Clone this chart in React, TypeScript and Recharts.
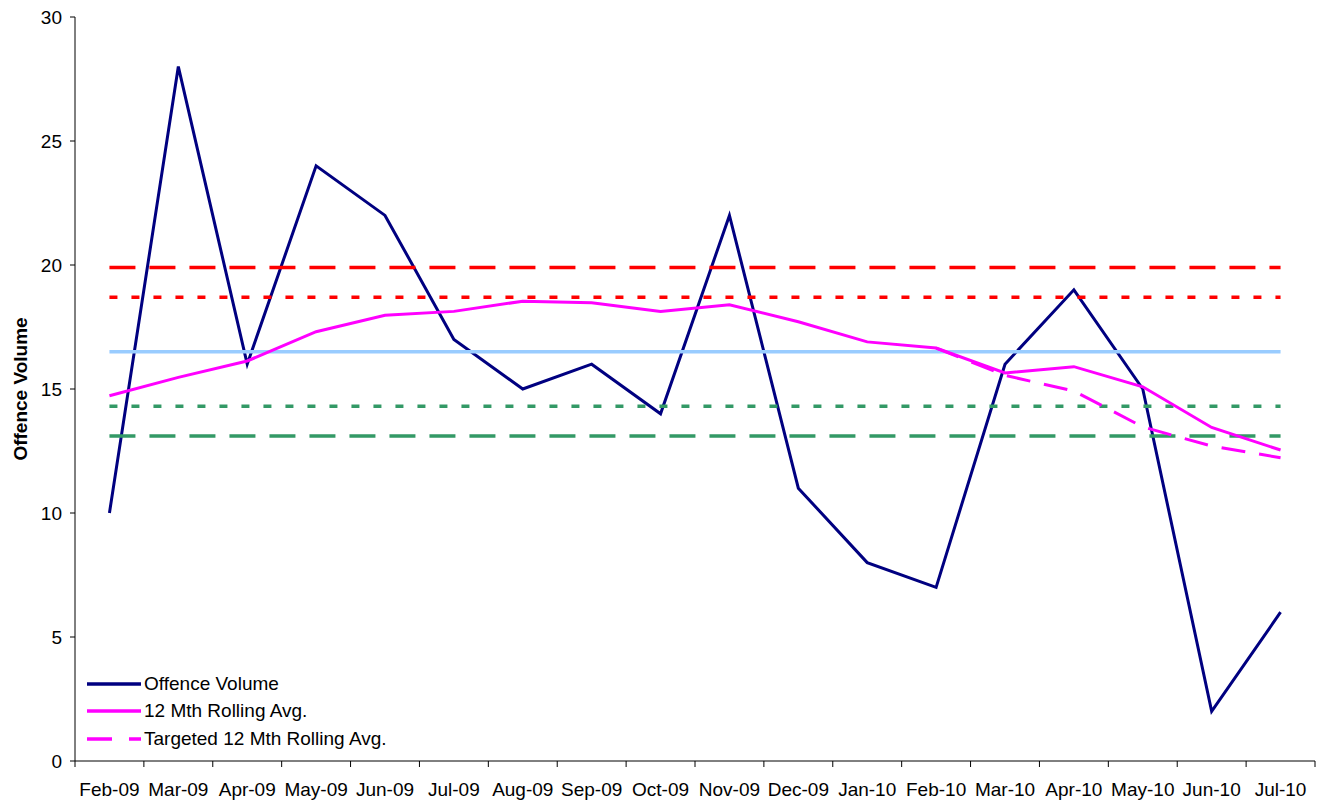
import { LineChart, Line, XAxis, YAxis, ReferenceLine } from "recharts";

const MONTHS = [
  "Feb-09", "Mar-09", "Apr-09", "May-09", "Jun-09", "Jul-09", "Aug-09", "Sep-09", "Oct-09",
  "Nov-09", "Dec-09", "Jan-10", "Feb-10", "Mar-10", "Apr-10", "May-10", "Jun-10", "Jul-10",
];
const OFFENCE_VOLUME = [10, 28, 16, 24, 22, 17, 15, 16, 14, 22, 11, 8, 7, 16, 19, 15, 2, 6];
const ROLLING_AVG = [
  14.73, 15.47, 16.13, 17.31, 17.97, 18.13, 18.54, 18.48, 18.13,
  18.4, 17.71, 16.9, 16.65, 15.65, 15.9, 15.09, 13.45, 12.54,
];
const TARGETED_AVG = [
  null, null, null, null, null, null, null, null, null,
  null, null, null, 16.65, 15.55, 14.92, 13.47, 12.7, 12.23,
];
const Y_TICKS = [0, 5, 10, 15, 20, 25, 30];

// horizontal bands: mean, warning and control limits
const MEAN = 16.5;
const UPPER_WARN = 18.7;
const UPPER_CTRL = 19.9;
const LOWER_WARN = 14.3;
const LOWER_CTRL = 13.1;

const FONT = "'Liberation Sans', Arial, sans-serif";
const FS = 19;
const NAVY = "#000080";
const PINK = "#FF00FF";

const data = MONTHS.map((month, i) => ({
  x: i + 0.5,
  month,
  offence: OFFENCE_VOLUME[i],
  rolling: ROLLING_AVG[i],
  targeted: TARGETED_AVG[i],
}));

// ticks at category boundaries (integers) and labels at category centres (halves)
const X_TICKS: number[] = [];
for (let i = 0; i <= MONTHS.length * 2; i++) X_TICKS.push(i / 2);

function MonthTick(props: any) {
  const { x, y, payload } = props;
  const v = payload.value;
  if (Number.isInteger(v)) {
    return <line x1={x} x2={x} y1={y} y2={y + 6} stroke="#000" strokeWidth={1} />;
  }
  return (
    <text x={x} y={y + 35} textAnchor="middle" fontSize={FS} fill="#000" fontFamily={FONT}>
      {MONTHS[Math.floor(v)]}
    </text>
  );
}

const LEGEND = [
  { name: "Offence Volume", color: NAVY, dash: undefined },
  { name: "12 Mth Rolling Avg.", color: PINK, dash: undefined },
  { name: "Targeted 12 Mth Rolling Avg.", color: PINK, dash: "24 14" },
];

const first = 0.5;
const last = MONTHS.length - 0.5;

const hLines = [
  { y: UPPER_CTRL, color: "#FF0000", dash: "26 14" },
  { y: UPPER_WARN, color: "#FF0000", dash: "8 14" },
  { y: MEAN, color: "#99CCFF", dash: undefined },
  { y: LOWER_WARN, color: "#339966", dash: "8 14" },
  { y: LOWER_CTRL, color: "#339966", dash: "26 14" },
];

export default function App() {
  return (
    <div style={{ position: "fixed", left: 0, top: 0, width: 1319, height: 802, background: "#fff" }}>
      <LineChart width={1319} height={802} data={data} margin={{ top: 17, right: 4, bottom: 0, left: 0 }}>
        <XAxis
          dataKey="x"
          type="number"
          domain={[0, MONTHS.length]}
          ticks={X_TICKS}
          interval={0}
          tick={<MonthTick />}
          tickLine={false}
          tickSize={0}
          tickMargin={0}
          height={41}
          axisLine={{ stroke: "#000" }}
        />
        <YAxis
          domain={[0, 30]}
          ticks={Y_TICKS}
          interval={0}
          width={75}
          tickSize={5}
          tickMargin={8}
          axisLine={{ stroke: "#000" }}
          tickLine={{ stroke: "#000" }}
          tick={{ fontSize: FS, fill: "#000", fontFamily: FONT }}
          label={{
            content: () => (
              <text
                x={20}
                y={389}
                transform="rotate(-90 20 389)"
                textAnchor="middle"
                dominantBaseline="central"
                fontSize={FS}
                fontWeight="bold"
                fill="#000"
                fontFamily={FONT}
              >
                Offence Volume
              </text>
            ),
          }}
        />
        <Line
          dataKey="offence"
          stroke={NAVY}
          strokeWidth={3}
          dot={false}
          isAnimationActive={false}
        />
        {hLines.map((h, i) => (
          <ReferenceLine
            key={i}
            segment={[{ x: first, y: h.y }, { x: last, y: h.y }]}
            stroke={h.color}
            strokeWidth={3.5}
            strokeDasharray={h.dash}
          />
        ))}
        <Line
          dataKey="rolling"
          stroke={PINK}
          strokeWidth={3}
          dot={false}
          isAnimationActive={false}
        />
        <Line
          dataKey="targeted"
          stroke={PINK}
          strokeWidth={3}
          strokeDasharray="24 14"
          dot={false}
          isAnimationActive={false}
        />
      </LineChart>
      <div style={{ position: "absolute", left: 86, top: 670, fontFamily: FONT, fontSize: FS, color: "#000" }}>
        {LEGEND.map((l) => (
          <div key={l.name} style={{ display: "flex", alignItems: "center", height: 27.5 }}>
            <svg width={56} height={8} style={{ marginRight: 2 }}>
              <line x1={1} x2={55} y1={4} y2={4} stroke={l.color} strokeWidth={3.5} strokeDasharray={l.dash ? "25 17" : undefined} />
            </svg>
            <span>{l.name}</span>
          </div>
        ))}
      </div>
    </div>
  );
}
